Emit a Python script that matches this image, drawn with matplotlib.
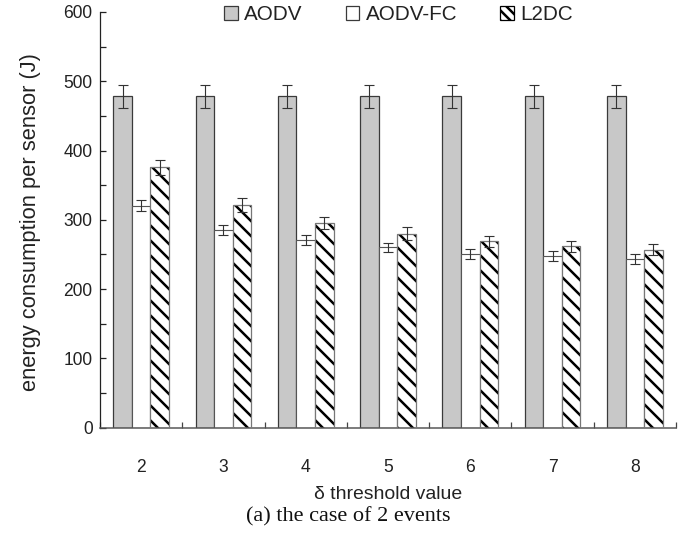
import matplotlib
matplotlib.use("Agg")
import matplotlib.pyplot as plt
from matplotlib.patches import Patch
import numpy as np

categories = ["2", "3", "4", "5", "6", "7", "8"]
aodv = [478, 478, 478, 478, 478, 478, 478]
aodv_err = [17, 17, 17, 17, 17, 17, 17]
aodv_fc = [320, 285, 271, 260, 251, 248, 243]
aodv_fc_err = [8, 7, 7, 7, 7, 7, 7]
l2dc = [376, 321, 295, 280, 269, 262, 257]
l2dc_err = [11, 10, 9, 9, 8, 8, 8]
y_ticks = [0, 100, 200, 300, 400, 500, 600]

DPI = 90
plt.rcParams['font.family'] = ['Liberation Sans', 'DejaVu Sans']
plt.rcParams['hatch.linewidth'] = 2.0
txt = '#222222'

fig = plt.figure(figsize=(696 / DPI, 535 / DPI), dpi=DPI)
ax = fig.add_axes([100 / 696, 1 - 427.5 / 535, 576 / 696, 415.5 / 535])

x = np.arange(len(categories))
w = 0.226
ekw = dict(ecolor='#333333', elinewidth=0.9, capsize=3.8, capthick=0.9, zorder=4)
ax.bar(x - w, aodv, w, color='#c8c8c8', edgecolor='#3a3a3a', linewidth=1.0,
       yerr=aodv_err, error_kw=ekw, zorder=2)
ax.bar(x, aodv_fc, w, color='white', edgecolor='#555555', linewidth=0.9,
       yerr=aodv_fc_err, error_kw=ekw, zorder=2)
# hatched fill (black stripes), then gray outline on top
ax.bar(x + w, l2dc, w, color='white', edgecolor='black', linewidth=0,
       hatch='\\\\', zorder=2)
ax.bar(x + w, l2dc, w, color='none', edgecolor='#777777', linewidth=1.0,
       yerr=l2dc_err, error_kw=ekw, zorder=3)

ax.set_xlim(-0.5, len(categories) - 0.5)
ax.set_ylim(0, 600)
ax.set_yticks(y_ticks)
ax.set_yticks(np.arange(50, 600, 100), minor=True)
ax.set_xticks(x)
ax.set_xticklabels(categories)
ax.set_xticks(np.arange(-0.5, len(categories), 1.0), minor=True)
ax.tick_params(axis='x', which='major', length=0, pad=25, labelsize=14, colors=txt)
ax.tick_params(axis='x', which='minor', direction='in', length=5, color='#444444', width=1)
ax.tick_params(axis='y', which='both', direction='in', length=5, color='#222222', width=1,
               labelsize=14, pad=6, labelcolor=txt)
for s in ['top', 'right']:
    ax.spines[s].set_visible(False)
ax.spines['left'].set_color('#222222')
ax.spines['bottom'].set_color('#555555')
ax.spines['left'].set_linewidth(1.0)
ax.spines['bottom'].set_linewidth(1.2)

ax.set_ylabel('energy consumption per sensor (J)', fontsize=17.5, color=txt)
ax.yaxis.set_label_coords((41 - 100) / 576, 0.495)
ax.set_xlabel('δ threshold value', fontsize=15.5, color=txt)
ax.xaxis.set_label_coords(0.5, (427.5 - 486) / 415.5)

handles = [
    Patch(facecolor='#c8c8c8', edgecolor='#3a3a3a', linewidth=1.0, label='AODV'),
    Patch(facecolor='white', edgecolor='#3a3a3a', linewidth=1.0, label='AODV-FC'),
    Patch(facecolor='white', edgecolor='black', linewidth=1.0, hatch='\\\\\\', label='L2DC'),
]
fig.legend(handles=handles, loc='center', bbox_to_anchor=(398.5 / 696, 1 - 15 / 535),
           ncol=3, frameon=False, fontsize=16.5, handlelength=0.65, handleheight=0.65,
           handletextpad=0.3, columnspacing=2.1, labelcolor=txt)

fig.text(0.5, 1 - 517 / 535, '(a) the case of 2 events', ha='center', va='center',
         fontsize=17.8, family='Liberation Serif', color='#111111')

fig.savefig('out.png', dpi=DPI)
